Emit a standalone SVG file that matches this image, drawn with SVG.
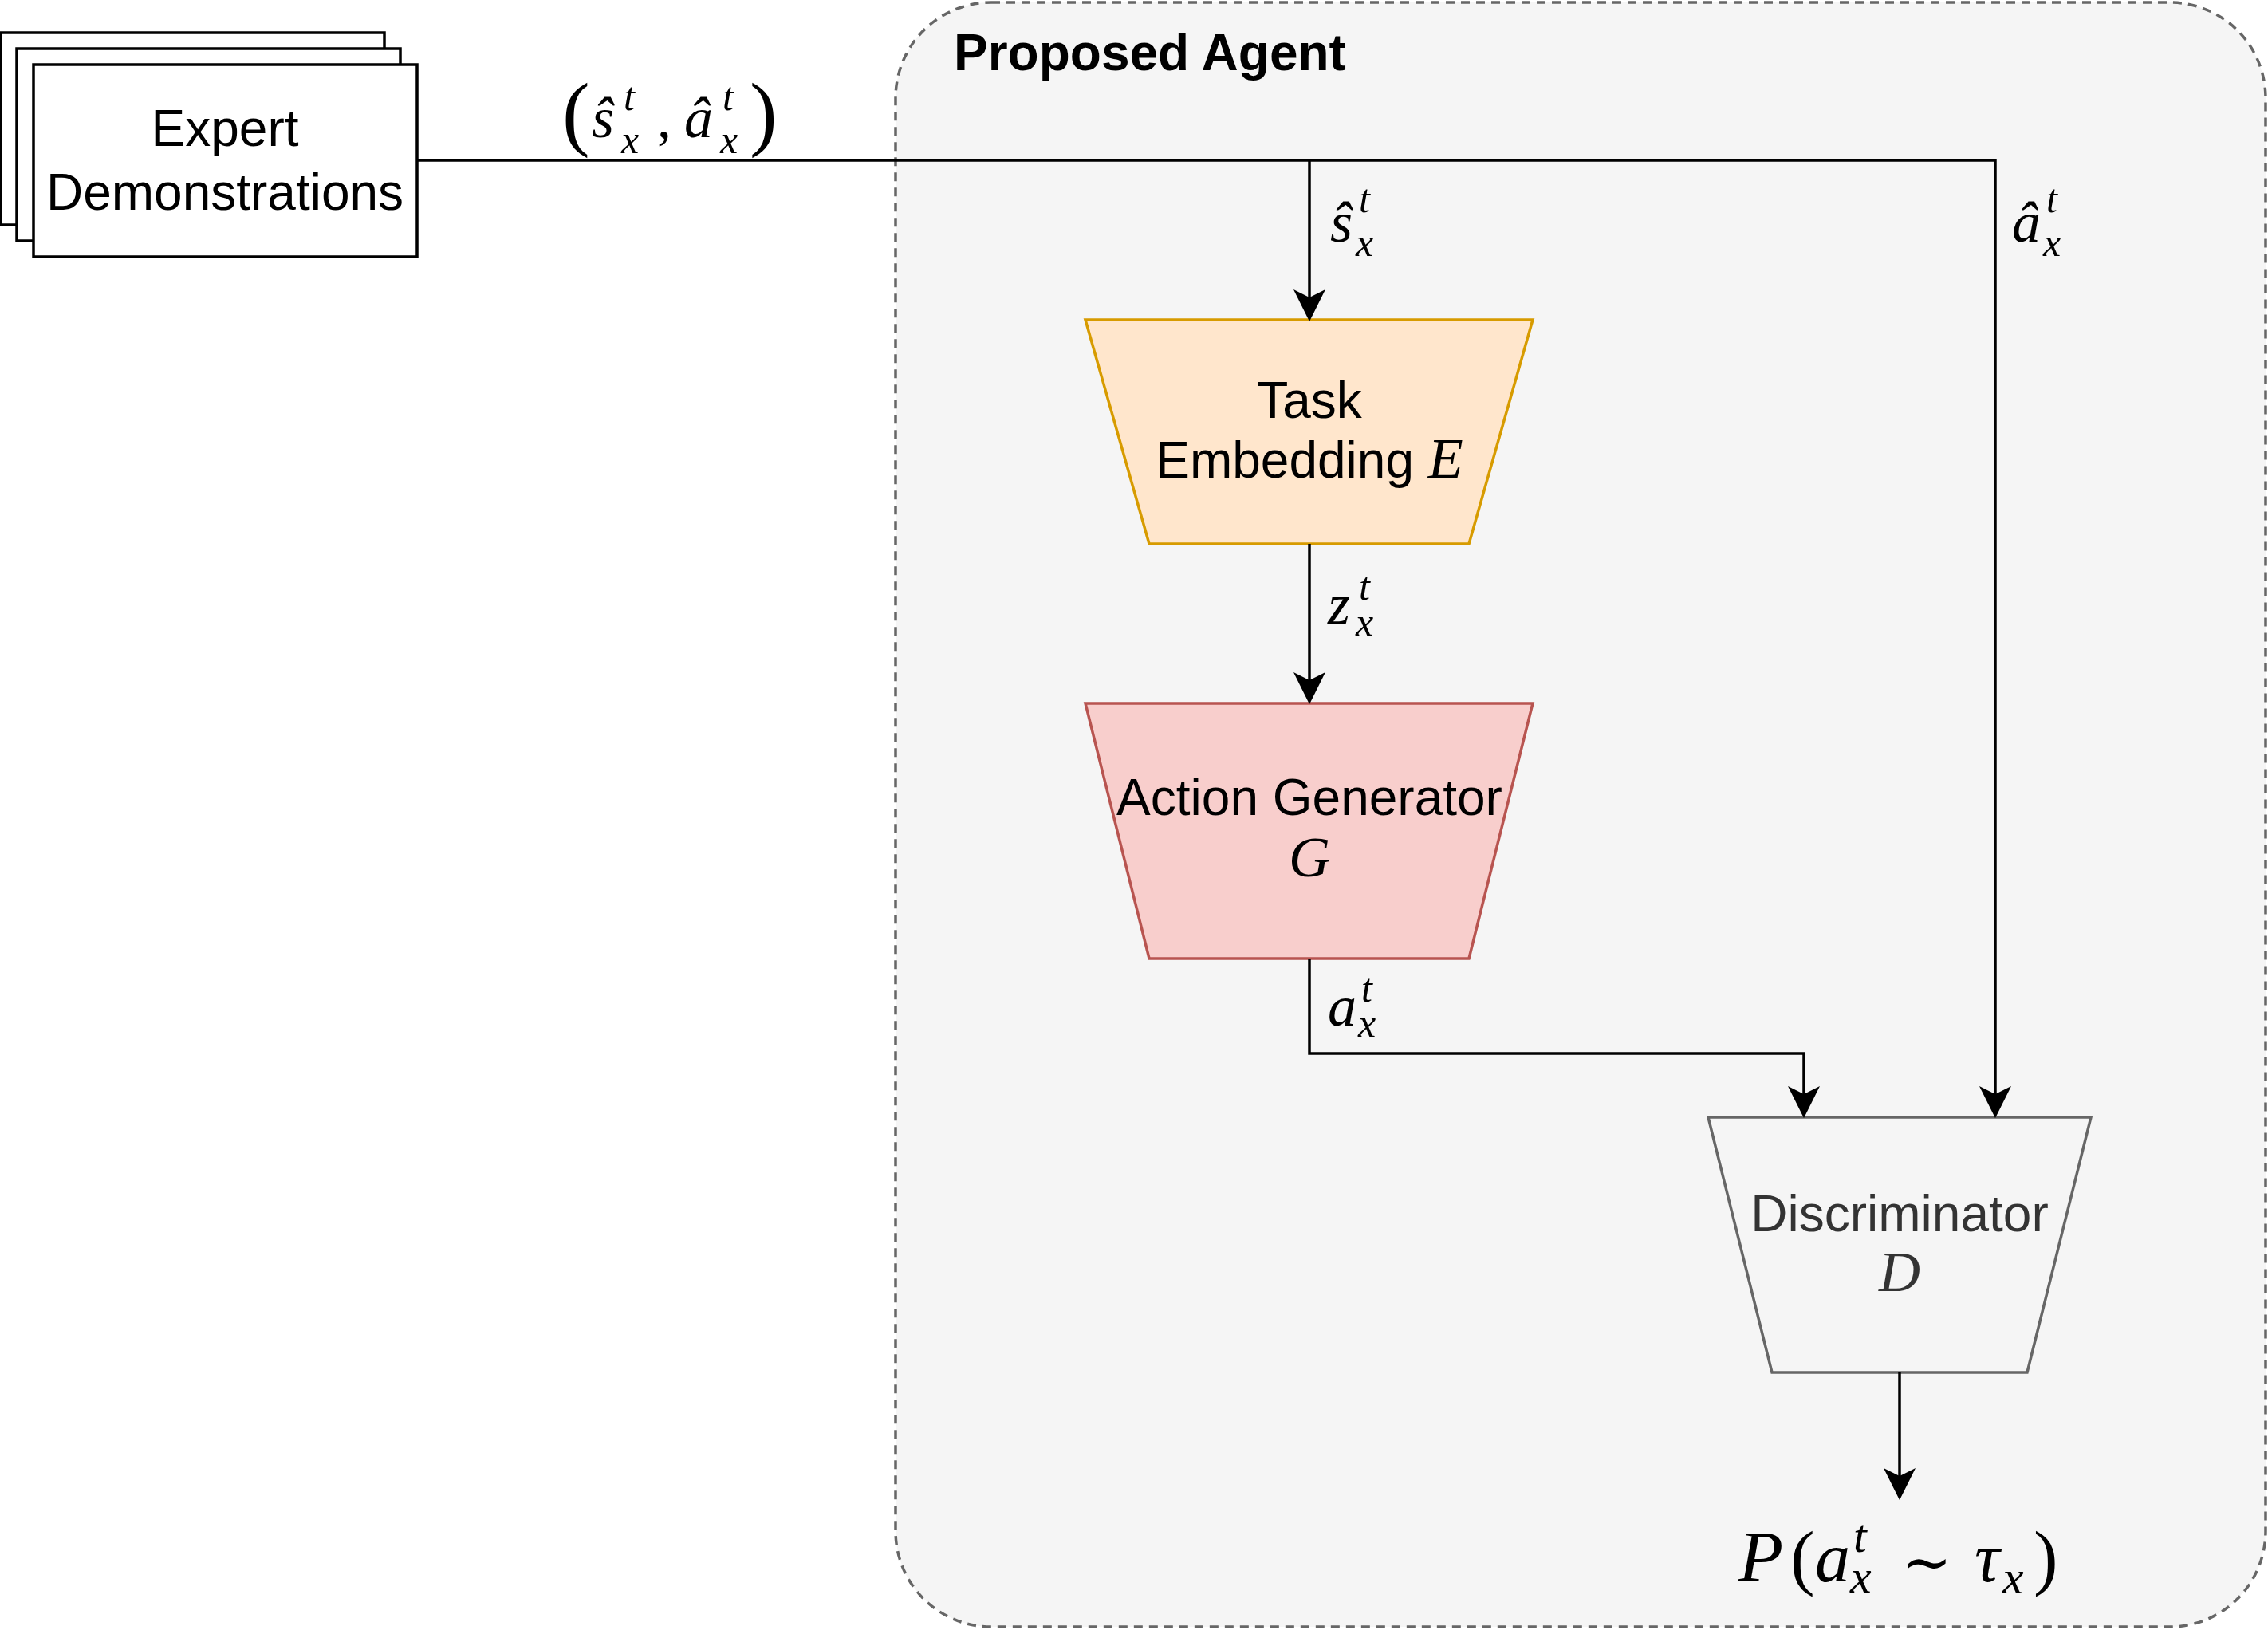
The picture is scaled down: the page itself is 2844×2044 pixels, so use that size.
<svg xmlns="http://www.w3.org/2000/svg" width="2844" height="2044" viewBox="0 0 2844 2044">
<defs>
<style>
.sans{font-family:"Liberation Sans",Arial,Helvetica,sans-serif;font-size:64px;fill:#000000}
.bold{font-weight:bold}
.m{font-family:"Liberation Serif","Times New Roman",serif;font-style:italic;font-size:72px;fill:#000000}
.ms{font-family:"Liberation Serif","Times New Roman",serif;font-style:italic;font-size:50px;fill:#000000}
.mu{font-family:"Liberation Serif","Times New Roman",serif;font-style:normal;fill:#000000}
.edge{fill:none;stroke:#000000;stroke-width:3.5}
.doc{fill:#ffffff;stroke:#000000;stroke-width:3.5}
</style>
<marker id="arr" markerUnits="userSpaceOnUse" markerWidth="40" markerHeight="40" viewBox="0 0 36 36" refX="26" refY="18" orient="auto">
<path d="M0,0 L36,18 L0,36 L9,18 Z" fill="#000000"/>
</marker>
</defs>
<rect width="2844" height="2044" fill="#ffffff"/>
<g id="container">
<rect x="1123" y="3" width="1718" height="2037" rx="120" ry="120" fill="#f5f5f5" stroke="#666666" stroke-width="3.5" stroke-dasharray="11 8"/>
<text class="sans bold" x="1196" y="88">Proposed Agent</text>
</g>
<g id="expert">
<rect class="doc" x="1" y="41" width="481" height="241"/>
<rect class="doc" x="21" y="61" width="481" height="241"/>
<rect class="doc" x="42" y="81" width="481" height="241"/>
<text class="sans" x="282" y="183" text-anchor="middle">Expert</text>
<text class="sans" x="282" y="263" text-anchor="middle">Demonstrations</text>
</g>
<g id="task-embedding">
<polygon points="1361,401 1922,401 1842,682 1441,682" fill="#ffe6cc" stroke="#d79b00" stroke-width="3.5"/>
<text class="sans" x="1642" y="524" text-anchor="middle">Task</text>
<text class="sans" x="1642" y="599" text-anchor="middle">Embedding <tspan font-family="Liberation Serif, serif" font-style="italic" font-size="72">E</tspan></text>
</g>
<g id="action-generator">
<polygon points="1361,882 1922,882 1842,1202 1441,1202" fill="#f8cecc" stroke="#b85450" stroke-width="3.5"/>
<text class="sans" x="1642" y="1022" text-anchor="middle">Action Generator</text>
<text class="m" x="1642" y="1099" text-anchor="middle">G</text>
</g>
<g id="discriminator">
<polygon points="2142,1401 2622,1401 2542,1721 2222,1721" fill="#f5f5f5" stroke="#666666" stroke-width="3.5"/>
<text class="sans" x="2382" y="1544" text-anchor="middle" style="fill:#333333">Discriminator</text>
<text class="m" x="2382" y="1619" text-anchor="middle" style="fill:#333333">D</text>
</g>
<g id="output">
<text class="m" x="2180" y="1983" style="font-size:92px">P<tspan class="mu" x="2245" y="1983" style="font-size:92px">(</tspan><tspan x="2276" y="1983" style="font-size:88px">a</tspan><tspan x="2324" y="1946" style="font-size:60px">t</tspan><tspan x="2320" y="1997" style="font-size:60px">x</tspan><tspan x="2384" y="1985" style="font-family:'DejaVu Serif',serif;font-style:normal;font-size:76px">∼</tspan><tspan x="2476" y="1983" style="font-size:88px">τ</tspan><tspan x="2511" y="1998" style="font-size:60px">x</tspan><tspan class="mu" x="2550" y="1983" style="font-size:92px">)</tspan></text>
</g>
<g id="connectors">
<path class="edge" d="M523,201 H2502 V1391" marker-end="url(#arr)"/>
<path class="edge" d="M1642,201 V392" marker-end="url(#arr)"/>
<path class="edge" d="M1642,682 V872" marker-end="url(#arr)"/>
<path class="edge" d="M1642,1202 V1321 H2262 V1391" marker-end="url(#arr)"/>
<path class="edge" d="M2382,1721 V1870" marker-end="url(#arr)"/>
</g>
<g id="edge-labels">
<text class="mu" x="705" y="176" font-size="104">(<tspan class="m" x="742" y="172">ŝ</tspan><tspan class="ms" x="782" y="138">t</tspan><tspan class="ms" x="779" y="192">x</tspan><tspan x="824" y="172" font-size="72">,</tspan><tspan class="m" x="858" y="172">â</tspan><tspan class="ms" x="906" y="138">t</tspan><tspan class="ms" x="903" y="192">x</tspan><tspan x="940" y="176">)</tspan></text>

<text class="m" x="1668" y="303">ŝ<tspan class="ms" x="1704" y="266">t</tspan><tspan class="ms" x="1700" y="321">x</tspan></text>

<text class="m" x="2523" y="303">â<tspan class="ms" x="2566" y="266">t</tspan><tspan class="ms" x="2562" y="321">x</tspan></text>

<text class="m" x="1665" y="782">z<tspan class="ms" x="1704" y="752">t</tspan><tspan class="ms" x="1700" y="797">x</tspan></text>

<text class="m" x="1665" y="1286">a<tspan class="ms" x="1707" y="1256">t</tspan><tspan class="ms" x="1703" y="1300">x</tspan></text>
</g>
</svg>
